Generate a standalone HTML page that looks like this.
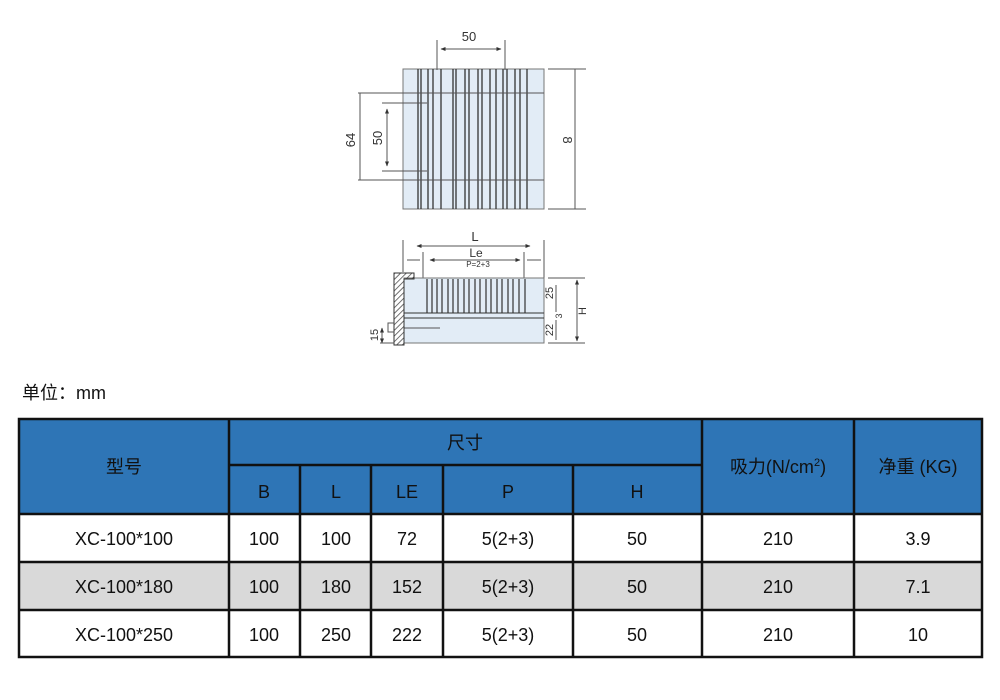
<!DOCTYPE html>
<html><head><meta charset="utf-8"><style>
body{margin:0;background:#fff;width:1000px;height:700px;overflow:hidden}
svg{display:block}
text{font-family:"Liberation Sans","Noto Sans CJK SC",sans-serif}
</style></head><body>
<svg width="1000" height="700" viewBox="0 0 1000 700" xmlns="http://www.w3.org/2000/svg">
<defs>
<marker id="a" viewBox="0 0 10 10" refX="9" refY="5" markerWidth="5" markerHeight="5" orient="auto-start-reverse"><path d="M0,1 L10,5 L0,9z" fill="#333"/></marker>
<pattern id="h" width="4" height="4" patternUnits="userSpaceOnUse" patternTransform="rotate(45)"><line x1="0" y1="0" x2="0" y2="4" stroke="#444" stroke-width="1.5"/></pattern>
</defs>
<g stroke="#555" stroke-width="1" fill="none">
<!-- top view -->
<rect x="403" y="69" width="141" height="140" fill="#e2ecf6" stroke="#777"/>
<g stroke="#333" stroke-width="1.3">
<line x1="418" y1="69" x2="418" y2="209"/><line x1="421" y1="69" x2="421" y2="209"/>
<line x1="428" y1="69" x2="428" y2="209"/><line x1="433" y1="69" x2="433" y2="209"/>
<line x1="441" y1="69" x2="441" y2="209"/><line x1="453" y1="69" x2="453" y2="209"/>
<line x1="456" y1="69" x2="456" y2="209"/><line x1="465" y1="69" x2="465" y2="209"/>
<line x1="469" y1="69" x2="469" y2="209"/><line x1="478" y1="69" x2="478" y2="209"/>
<line x1="482" y1="69" x2="482" y2="209"/><line x1="490" y1="69" x2="490" y2="209"/>
<line x1="496" y1="69" x2="496" y2="209"/><line x1="503" y1="69" x2="503" y2="209"/>
<line x1="507" y1="69" x2="507" y2="209"/><line x1="515" y1="69" x2="515" y2="209"/>
<line x1="520" y1="69" x2="520" y2="209"/><line x1="527" y1="69" x2="527" y2="209"/>
</g>
<line x1="358" y1="93" x2="544" y2="93"/><line x1="358" y1="180" x2="544" y2="180"/>
<line x1="437" y1="40" x2="437" y2="70"/><line x1="505" y1="40" x2="505" y2="70"/>
<line x1="441" y1="49" x2="501" y2="49" marker-start="url(#a)" marker-end="url(#a)"/>
<line x1="360" y1="93" x2="360" y2="180"/>
<line x1="382" y1="103" x2="427" y2="103"/><line x1="382" y1="171" x2="427" y2="171"/>
<line x1="387" y1="109" x2="387" y2="166" marker-start="url(#a)" marker-end="url(#a)"/>
<line x1="548" y1="69" x2="586" y2="69"/><line x1="548" y1="209" x2="586" y2="209"/>
<line x1="575" y1="69" x2="575" y2="209"/>
<!-- side view -->
<line x1="403" y1="240" x2="403" y2="272"/><line x1="544" y1="240" x2="544" y2="343"/>
<line x1="417" y1="246" x2="530" y2="246" marker-start="url(#a)" marker-end="url(#a)"/>
<line x1="407" y1="260" x2="420" y2="260"/><line x1="527" y1="260" x2="541" y2="260"/>
<line x1="423" y1="252" x2="423" y2="280"/><line x1="524" y1="252" x2="524" y2="280"/>
<line x1="430" y1="260" x2="520" y2="260" marker-start="url(#a)" marker-end="url(#a)"/>
<rect x="404" y="278" width="140" height="65" fill="#e2ecf6" stroke="#777"/>
<g stroke="#333" stroke-width="1.2">
<line x1="427" y1="279" x2="427" y2="313"/><line x1="432" y1="279" x2="432" y2="313"/>
<line x1="437" y1="279" x2="437" y2="313"/><line x1="442" y1="279" x2="442" y2="313"/>
<line x1="448" y1="279" x2="448" y2="313"/><line x1="453" y1="279" x2="453" y2="313"/>
<line x1="458" y1="279" x2="458" y2="313"/><line x1="464" y1="279" x2="464" y2="313"/>
<line x1="469" y1="279" x2="469" y2="313"/><line x1="475" y1="279" x2="475" y2="313"/>
<line x1="480" y1="279" x2="480" y2="313"/><line x1="486" y1="279" x2="486" y2="313"/>
<line x1="491" y1="279" x2="491" y2="313"/><line x1="497" y1="279" x2="497" y2="313"/>
<line x1="502" y1="279" x2="502" y2="313"/><line x1="508" y1="279" x2="508" y2="313"/>
<line x1="513" y1="279" x2="513" y2="313"/><line x1="519" y1="279" x2="519" y2="313"/>
<line x1="525" y1="279" x2="525" y2="313"/>
</g>
<line x1="404" y1="313" x2="544" y2="313" stroke="#333"/><line x1="404" y1="318" x2="544" y2="318" stroke="#333"/>
<line x1="404" y1="328" x2="440" y2="328"/>
<path d="M394,273 L414,273 L414,279 L404,279 L404,345 L394,345 Z" fill="url(#h)" stroke="#333"/>
<path d="M394,323 L388,323 L388,332 L394,332" />
<line x1="380" y1="343" x2="394" y2="343"/>
<line x1="382" y1="328" x2="382" y2="343" marker-start="url(#a)" marker-end="url(#a)"/>
<line x1="548" y1="278" x2="585" y2="278"/><line x1="548" y1="343" x2="585" y2="343"/>
<line x1="556" y1="285" x2="556" y2="312"/><line x1="556" y1="320" x2="556" y2="340"/>
<line x1="577" y1="280" x2="577" y2="341" marker-start="url(#a)" marker-end="url(#a)"/>
</g>
<g fill="#333" font-size="13">
<text x="469" y="41" text-anchor="middle">50</text>
<text transform="translate(355,140) rotate(-90)" text-anchor="middle">64</text>
<text transform="translate(382,138) rotate(-90)" text-anchor="middle">50</text>
<text transform="translate(563,140) rotate(90)" text-anchor="middle">8</text>
<text x="475" y="241" text-anchor="middle">L</text>
<text x="476" y="257" text-anchor="middle" font-size="12">Le</text>
<text x="478" y="267" text-anchor="middle" font-size="8">P=2+3</text>
<text transform="translate(553,293) rotate(-90)" text-anchor="middle" font-size="11">25</text>
<text transform="translate(553,330) rotate(-90)" text-anchor="middle" font-size="11">22</text>
<text transform="translate(562,316) rotate(-90)" text-anchor="middle" font-size="9">3</text>
<text transform="translate(586,311) rotate(-90)" text-anchor="middle" font-size="11">H</text>
<text transform="translate(378,335) rotate(-90)" text-anchor="middle" font-size="11">15</text>
</g>
<text x="22" y="399" font-size="18" fill="#111">单位：mm</text>
<!-- table -->
<rect x="19" y="419" width="963" height="95" fill="#2e75b6"/>
<rect x="19" y="562" width="963" height="48" fill="#d9d9d9"/>
<g stroke="#111" stroke-width="2.5" fill="none">
<rect x="19" y="419" width="963" height="238"/>
<line x1="229" y1="465" x2="702" y2="465"/>
<line x1="19" y1="514" x2="982" y2="514"/>
<line x1="19" y1="562" x2="982" y2="562"/>
<line x1="19" y1="610" x2="982" y2="610"/>
<line x1="229" y1="419" x2="229" y2="657"/>
<line x1="300" y1="465" x2="300" y2="657"/>
<line x1="371" y1="465" x2="371" y2="657"/>
<line x1="443" y1="465" x2="443" y2="657"/>
<line x1="573" y1="465" x2="573" y2="657"/>
<line x1="702" y1="419" x2="702" y2="657"/>
<line x1="854" y1="419" x2="854" y2="657"/>
</g>
<g font-size="18" fill="#111" text-anchor="middle">
<text x="124" y="473">型号</text>
<text x="465" y="449">尺寸</text>
<text x="264" y="498">B</text><text x="336" y="498">L</text><text x="407" y="498">LE</text>
<text x="508" y="498">P</text><text x="637" y="498">H</text>
<text x="778" y="473">吸力(N/cm<tspan font-size="11" dy="-7">2</tspan><tspan dy="7">)</tspan></text>
<text x="918" y="473">净重 (KG)</text>
<g id="r">
<text x="124" y="545">XC-100*100</text><text x="264" y="545">100</text><text x="336" y="545">100</text><text x="407" y="545">72</text><text x="508" y="545">5(2+3)</text><text x="637" y="545">50</text><text x="778" y="545">210</text><text x="918" y="545">3.9</text>
<text x="124" y="593">XC-100*180</text><text x="264" y="593">100</text><text x="336" y="593">180</text><text x="407" y="593">152</text><text x="508" y="593">5(2+3)</text><text x="637" y="593">50</text><text x="778" y="593">210</text><text x="918" y="593">7.1</text>
<text x="124" y="641">XC-100*250</text><text x="264" y="641">100</text><text x="336" y="641">250</text><text x="407" y="641">222</text><text x="508" y="641">5(2+3)</text><text x="637" y="641">50</text><text x="778" y="641">210</text><text x="918" y="641">10</text>
</g>
</g>
</svg>
</body></html>
